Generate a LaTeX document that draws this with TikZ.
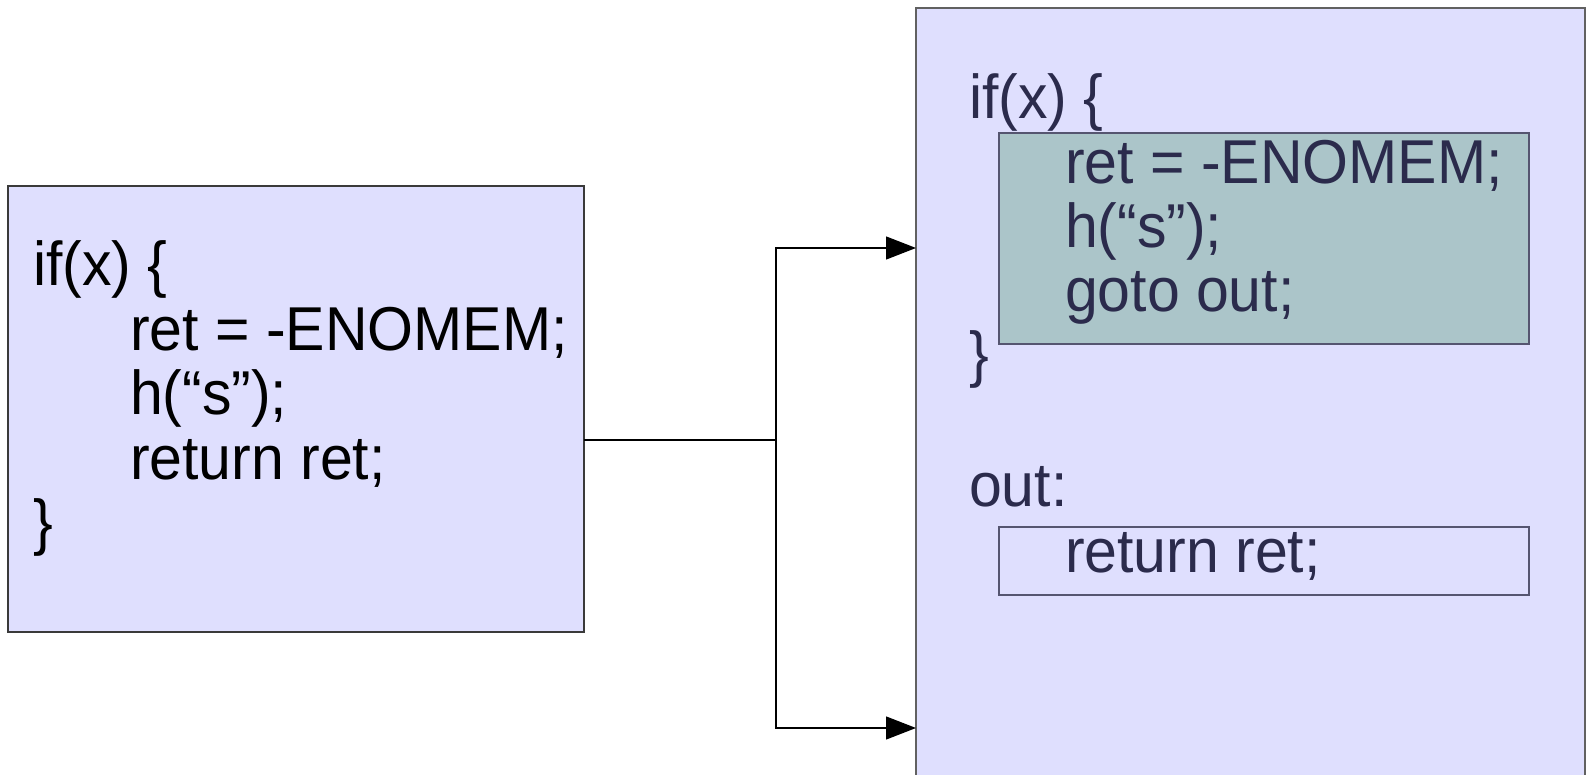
\documentclass[tikz,border=0pt]{standalone}
\usepackage{fontspec}
\usepackage{graphicx}
\setmainfont{Liberation Sans}
\usetikzlibrary{arrows.meta}
\definecolor{panel}{HTML}{DFDFFE}
\definecolor{block}{HTML}{ABC5C9}
\definecolor{ink}{HTML}{2B2B4C}
\definecolor{edge}{HTML}{3A3A3A}
% code lines are set slightly taller than the font's natural shape
\newcommand{\codeline}[1]{\scalebox{1}[1.05]{#1}}
\tikzset{
  box/.style={draw=edge, line width=1.2pt, inner sep=0pt, outer sep=0pt, anchor=north west},
  code/.style={inner sep=0pt, outer sep=0pt, anchor=base west, font=\fontsize{59}{64}\selectfont},
  link/.style={draw=black, line width=1.3pt},
  tip/.style={-{Triangle[length=30pt,width=23pt]}}
}
\begin{document}
\begin{tikzpicture}[x=1pt,y=-1pt]
\useasboundingbox (0,0) rectangle (1591,775);
\clip (0,0) rectangle (1591,775);
\fill[white] (0,0) rectangle (1591,775);

% original function
\node[box, fill=panel, minimum width=576pt, minimum height=446pt] (leftbox) at (8,186) {};
\node[code] (a1) at (33,286) {\codeline{if(x) \{}};
\node[code] (a2) at (130,351) {\codeline{ret = -ENOMEM;}};
\node[code] (a3) at (130,415) {\codeline{h(“s”);}};
\node[code] (a4) at (130,479) {\codeline{return ret;}};
\node[code] (a5) at (33,543) {\codeline{\}}};

% rewritten function
\node[box, draw=edge!80, fill=panel, minimum width=669pt, minimum height=800pt] (rightbox) at (916,8) {};
\node[box, draw=ink!80, fill=block, minimum width=530pt, minimum height=211pt] (errblock) at (999,133) {};
\node[box, draw=ink!80, fill=panel, minimum width=530pt, minimum height=68pt] (outblock) at (999,527) {};
\begin{scope}[every node/.append style={text=ink}]
\node[code] (b1) at (969,119) {\codeline{if(x) \{}};
\node[code] (b2) at (1065,184) {\codeline{ret = -ENOMEM;}};
\node[code] (b3) at (1065,248) {\codeline{h(“s”);}};
\node[code] (b4) at (1065,312) {\codeline{goto out;}};
\node[code] (b5) at (969,376) {\codeline{\}}};
\node[code] (b6) at (969,507) {\codeline{out:}};
\node[code] (b7) at (1065,572) {\codeline{return ret;}};
\end{scope}

% connector
\coordinate (src) at (leftbox.east |- 0,440);
\coordinate (split) at (776,440);
\coordinate (intop) at (rightbox.west |- 0,248);
\coordinate (inbot) at (rightbox.west |- 0,728);
\draw[link] (src) -- (split);
\draw[link, tip] (split) |- (intop);
\draw[link, tip] (split) |- (inbot);
\end{tikzpicture}
\end{document}
